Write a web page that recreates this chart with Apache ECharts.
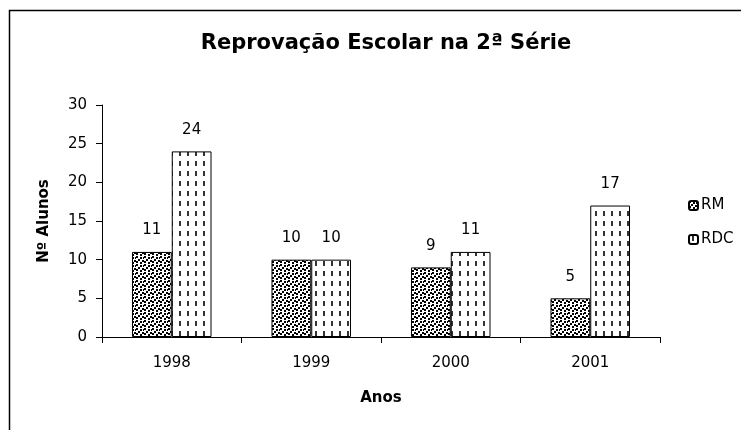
<!DOCTYPE html>
<html>
<head>
<meta charset="utf-8">
<script src="https://cdn.jsdelivr.net/npm/echarts@6/dist/echarts.min.js"></script>
<style>
html, body { margin: 0; padding: 0; background: #fff; }
#chart { width: 741px; height: 430px; }
</style>
</head>
<body>
<div id="chart"></div>
<script>
// Chart data
const years = ['1998', '1999', '2000', '2001']
const rmValues = [11, 10, 9, 5]
const rdcValues = [24, 10, 11, 17]
const yTicks = [0, 5, 10, 15, 20, 25, 30]

const font = '"DejaVu Sans", "Liberation Sans", Arial, sans-serif'

// Fill patterns (dotted for RM, dashed for RDC)
function dotPattern() {
    const c = document.createElement('canvas')
    c.width = 8
    c.height = 8
    const ctx = c.getContext('2d')
    ctx.fillStyle = '#fff'
    ctx.fillRect(0, 0, 8, 8)
    ctx.fillStyle = '#000'
    const dots = [[0, 0], [4, 1], [2, 3], [6, 4], [0, 5], [4, 6], [7, 1]]
    dots.forEach(d => ctx.fillRect(d[0], d[1], 2, 2))
    return c
}

function dashPattern() {
    const c = document.createElement('canvas')
    c.width = 8
    c.height = 10
    const ctx = c.getContext('2d')
    ctx.fillStyle = '#fff'
    ctx.fillRect(0, 0, 8, 10)
    ctx.fillStyle = '#333'
    ctx.fillRect(3, 1, 2, 5)
    return c
}

const chart = echarts.init(document.getElementById('chart'), null, { renderer: 'canvas' })

const labelStyle = {
    show: true,
    position: 'top',
    distance: 14,
    fontFamily: font,
    fontSize: 15,
    color: '#000'
}

const option = {
    backgroundColor: '#fff',
    animation: false,
    textStyle: { fontFamily: font },
    title: {
        text: 'Reprovação Escolar na 2ª Série',
        left: 381,
        textAlign: 'center',
        top: 28,
        textStyle: { fontFamily: font, fontSize: 21, fontWeight: 'bold', color: '#000' }
    },
    graphic: [{
        type: 'rect',
        shape: { x: 9.5, y: 10.5, width: 900, height: 600 },
        style: { fill: 'none', stroke: '#000', lineWidth: 1.5 },
        silent: true
    }],
    legend: {
        orient: 'vertical',
        left: 683,
        top: 193,
        itemWidth: 9,
        itemHeight: 9,
        itemGap: 19,
        textStyle: { fontFamily: font, fontSize: 15, color: '#000', padding: [0, 0, 0, -2] },
        data: ['RM', 'RDC']
    },
    grid: {
        left: 102,
        right: 81,
        top: 105,
        bottom: 93,
        containLabel: false
    },
    xAxis: {
        type: 'category',
        data: years,
        name: 'Anos',
        nameLocation: 'middle',
        nameGap: 54,
        nameTextStyle: { fontFamily: font, fontSize: 15, fontWeight: 'bold', color: '#000' },
        axisLine: { lineStyle: { color: '#000', width: 1 } },
        axisTick: { show: true, alignWithLabel: false, length: 6, lineStyle: { color: '#000' } },
        axisLabel: { fontFamily: font, fontSize: 15, color: '#000', margin: 19 }
    },
    yAxis: {
        type: 'value',
        min: yTicks[0],
        max: yTicks[yTicks.length - 1],
        interval: yTicks[1] - yTicks[0],
        name: 'Nº Alunos',
        nameLocation: 'middle',
        nameGap: 50,
        nameTextStyle: { fontFamily: font, fontSize: 15, fontWeight: 'bold', color: '#000' },
        axisLine: { show: true, lineStyle: { color: '#000', width: 1 } },
        axisTick: { show: true, length: 6, lineStyle: { color: '#000' } },
        axisLabel: { fontFamily: font, fontSize: 15, color: '#000', margin: 15 },
        splitLine: { show: false }
    },
    series: [
        {
            name: 'RM',
            type: 'bar',
            data: rmValues,
            barGap: '0%',
            barCategoryGap: '43%',
            itemStyle: {
                color: { image: dotPattern(), repeat: 'repeat' },
                borderColor: '#000',
                borderWidth: 1
            },
            label: labelStyle
        },
        {
            name: 'RDC',
            type: 'bar',
            data: rdcValues,
            barGap: '0%',
            barCategoryGap: '43%',
            itemStyle: {
                color: { image: dashPattern(), repeat: 'repeat' },
                borderColor: '#000',
                borderWidth: 1
            },
            label: labelStyle
        }
    ]
}

chart.setOption(option)
</script>
</body>
</html>
